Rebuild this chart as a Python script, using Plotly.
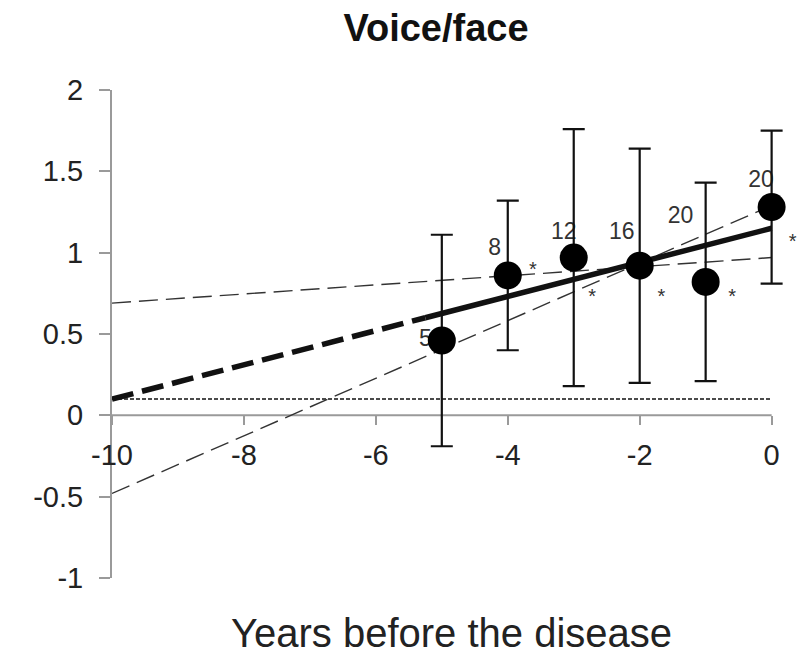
import plotly.graph_objects as go

# ---- data ----
years = [-5, -4, -3, -2, -1, 0]
means = [0.46, 0.86, 0.97, 0.92, 0.82, 1.28]
errors = [0.65, 0.46, 0.79, 0.72, 0.61, 0.47]

n_labels = ["5", "8", "12", "16", "20", "20"]
n_label_x = [-5.25, -4.2, -3.15, -2.27, -1.38, -0.16]
n_label_y = [0.46, 1.02, 1.12, 1.12, 1.22, 1.44]

star_x = [-3.62, -2.72, -1.67, -0.6, 0.32]
star_y = [0.89, 0.72, 0.72, 0.72, 1.06]

fit_dash_x = [-10, -5.25]
fit_dash_y = [0.10, 0.60]
fit_solid_x = [-5.25, 0]
fit_solid_y = [0.60, 1.15]

ci_upper_x = [-10, 0]
ci_upper_y = [0.69, 0.97]
ci_lower_x = [-10, 0]
ci_lower_y = [-0.48, 1.29]

base_x = [-10, 0]
base_y = [0.10, 0.10]

x_ticks = [-10, -8, -6, -4, -2, 0]
y_ticks = [-1, -0.5, 0, 0.5, 1, 1.5, 2]
y_tick_text = ["-1", "-0.5", "0", "0.5", "1", "1.5", "2"]

FONT = "Liberation Sans, Arial, Helvetica, sans-serif"
AX = "#9a9a9a"

# page has an 8px body margin, so the figure is laid out 8px smaller
W, H = 801, 647
X_MAX = 0.4  # extra room right of 0 so the last error bar is not clipped

fig = go.Figure()

fig.add_trace(go.Scatter(x=base_x, y=base_y, mode="lines",
                         line=dict(color="#111", width=1.6, dash="4px,2px"),
                         hoverinfo="skip"))
fig.add_trace(go.Scatter(x=ci_upper_x, y=ci_upper_y, mode="lines",
                         line=dict(color="#333", width=1.4, dash="19px,8px"),
                         hoverinfo="skip"))
fig.add_trace(go.Scatter(x=ci_lower_x, y=ci_lower_y, mode="lines",
                         line=dict(color="#333", width=1.4, dash="19px,8px"),
                         hoverinfo="skip"))
fig.add_trace(go.Scatter(x=fit_dash_x, y=fit_dash_y, mode="lines",
                         line=dict(color="#111", width=5.5, dash="22px,9px"),
                         hoverinfo="skip"))
fig.add_trace(go.Scatter(x=fit_solid_x, y=fit_solid_y, mode="lines",
                         line=dict(color="#111", width=5.5),
                         hoverinfo="skip"))

# n labels (drawn before markers so "5" hides behind its dot)
fig.add_trace(go.Scatter(x=n_label_x, y=n_label_y, mode="text", text=n_labels,
                         textfont=dict(family=FONT, size=23, color="#333"),
                         cliponaxis=False, hoverinfo="skip"))

fig.add_trace(go.Scatter(
    x=years, y=means, mode="markers",
    marker=dict(color="black", size=28),
    error_y=dict(type="data", array=errors, visible=True,
                 color="#111", thickness=2.2, width=11),
    cliponaxis=False, hoverinfo="skip"))

fig.add_trace(go.Scatter(x=star_x, y=star_y, mode="text", text=["*"] * len(star_x),
                         textfont=dict(family=FONT, size=20, color="#333"),
                         cliponaxis=False, hoverinfo="skip"))

plot_left, plot_right = 104, 764 + 66 * X_MAX
fig.update_layout(
    width=W, height=H,
    margin=dict(l=plot_left, r=W - plot_right, t=82, b=77),
    paper_bgcolor="white", plot_bgcolor="white",
    showlegend=False,
    title=dict(text="<b>Voice/face</b>", x=428 / W, xanchor="center",
               xref="container", y=1 - 6 / H, yanchor="top",
               font=dict(family=FONT, size=38, color="#111")),
    font=dict(family=FONT),
)

# x axis line drawn at y = 0 from -10 to 0
fig.add_shape(type="line", xref="x", yref="y", x0=x_ticks[0], x1=x_ticks[-1],
              y0=0, y1=0, line=dict(color=AX, width=2), layer="below")

fig.update_xaxes(
    range=[-10, X_MAX], anchor="free", position=1 / 3,
    showline=False,
    ticks="outside", ticklen=9, tickwidth=2, tickcolor=AX,
    tickvals=x_ticks, ticktext=[str(v) for v in x_ticks],
    tickfont=dict(family=FONT, size=29, color="#222"),
    showgrid=False, zeroline=False, ticklabelstandoff=5,
)
fig.update_yaxes(
    range=[-1, 2],
    showline=True, linecolor=AX, linewidth=2,
    ticks="outside", ticklen=11, tickwidth=2, tickcolor=AX,
    tickvals=y_ticks, ticktext=y_tick_text,
    tickfont=dict(family=FONT, size=29, color="#222"),
    showgrid=False, zeroline=False, ticklabelstandoff=10,
)

fig.add_annotation(text="Years before the disease", xref="x", yref="paper",
                   x=-10 + (452 - 112) / 66, y=(578 - 633) / 488,
                   xanchor="center", yanchor="middle", showarrow=False,
                   font=dict(family=FONT, size=40, color="#222"))

fig.write_html("out.html")
